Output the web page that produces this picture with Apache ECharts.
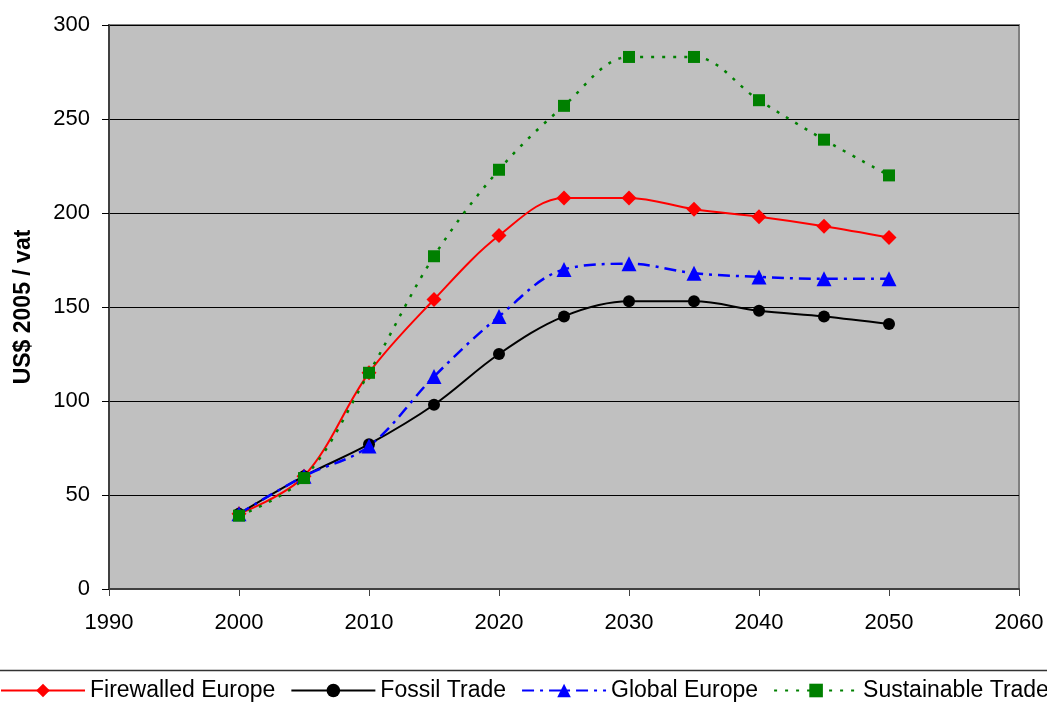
<!DOCTYPE html>
<html>
<head>
<meta charset="utf-8">
<script src="https://cdn.jsdelivr.net/npm/echarts@6/dist/echarts.min.js"></script>
<style>
html,body{margin:0;padding:0;background:#fff;}
#chart{width:1047px;height:704px;}
</style>
</head>
<body>
<div id="chart"></div>
<script>
const years = [2000, 2005, 2010, 2015, 2020, 2025, 2030, 2035, 2040, 2045, 2050];
const firewalledEurope = [40, 60, 115, 154, 188, 208, 208, 202, 198, 193, 187];
const fossilTrade = [40, 60, 77, 98, 125, 145, 153, 153, 148, 145, 141];
const globalEurope = [40, 60, 76, 113, 145, 170, 173, 168, 166, 165, 165];
const sustainableTrade = [39, 59, 115, 177, 223, 257, 283, 283, 260, 239, 220];
const seriesNames = ['Firewalled Europe', 'Fossil Trade', 'Global Europe', 'Sustainable Trade'];

function pairs(vals){ return years.map((y,i)=>[y, vals[i]]); }

const chart = echarts.init(document.getElementById('chart'), null, {renderer:'canvas'});
const font = 'Liberation Sans, Arial, sans-serif';
const smooth = 0.35;

chart.setOption({
  animation:false,
  textStyle:{fontFamily:font},
  grid:{left:109, right:28, top:25, bottom:115, show:true, backgroundColor:'#C0C0C0', borderColor:'#808080', borderWidth:2},
  legend:{
    left:0, top:679, width:1400, padding:0, itemWidth:84, itemHeight:17, itemGap:15,
    textStyle:{fontSize:23, color:'#000', fontFamily:font},
    data:seriesNames
  },
  graphic:[{type:'line', shape:{x1:0,y1:670.5,x2:1047,y2:670.5}, style:{stroke:'#333', lineWidth:1.5}, silent:true}],
  xAxis:{
    type:'value', min:1990, max:2060, interval:10,
    axisLine:{show:true, lineStyle:{color:'#404040', width:2}},
    axisTick:{show:true, length:7, lineStyle:{color:'#404040', width:1}},
    axisLabel:{fontSize:22, color:'#000', margin:23, fontFamily:font, formatter:function(v){return String(v);}},
    splitLine:{show:false}
  },
  yAxis:{
    type:'value', min:0, max:300, interval:50,
    name:'US$ 2005 / vat', nameLocation:'middle', nameGap:74,
    nameTextStyle:{fontSize:23, fontWeight:'bold', color:'#000', fontFamily:font},
    axisLine:{show:true, lineStyle:{color:'#404040', width:2}},
    axisTick:{show:true, length:7, lineStyle:{color:'#000', width:1}},
    axisLabel:{fontSize:22, color:'#000', margin:19, fontFamily:font},
    splitLine:{show:true, lineStyle:{color:'#000', width:1}}
  },
  series:[
    {name:seriesNames[0], type:'line', data:pairs(firewalledEurope), smooth:smooth,
     symbol:'diamond', symbolSize:15, itemStyle:{color:'#FF0000'}, lineStyle:{color:'#FF0000', width:2}},
    {name:seriesNames[1], type:'line', data:pairs(fossilTrade), smooth:smooth,
     symbol:'circle', symbolSize:12, itemStyle:{color:'#000000'}, lineStyle:{color:'#000000', width:2}},
    {name:seriesNames[2], type:'line', data:pairs(globalEurope), smooth:smooth,
     symbol:'triangle', symbolSize:15, itemStyle:{color:'#0000FF'}, lineStyle:{color:'#0000FF', width:2.5, type:[12,6,3,6]}},
    {name:seriesNames[3], type:'line', data:pairs(sustainableTrade), smooth:smooth,
     symbol:'rect', symbolSize:12, itemStyle:{color:'#008000'}, lineStyle:{color:'#008000', width:2.5, type:[3,8]}}
  ]
});
</script>
</body>
</html>
